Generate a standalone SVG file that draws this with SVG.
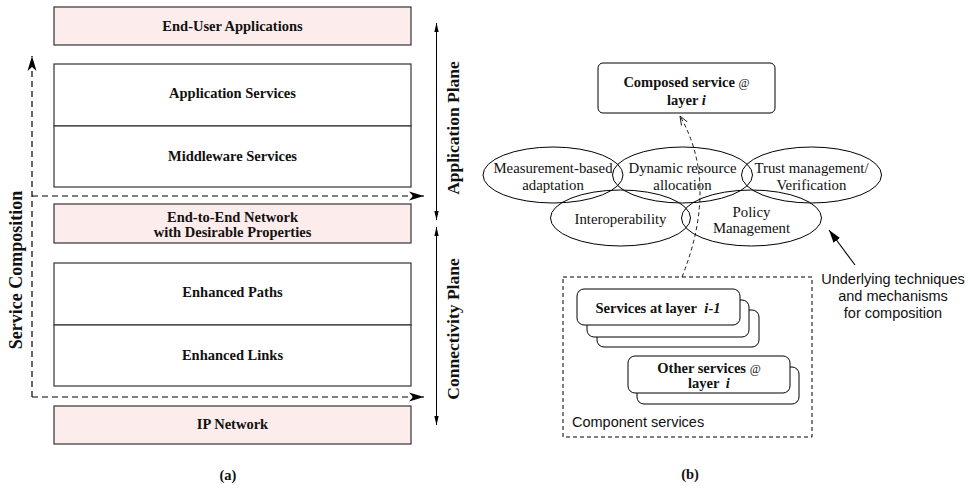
<svg xmlns="http://www.w3.org/2000/svg" width="970" height="489" viewBox="0 0 970 489">
<defs>
<marker id="barb" markerUnits="userSpaceOnUse" markerWidth="16" markerHeight="10" refX="15" refY="5" orient="auto">
<path d="M0,0.5 L15,5 L0,9.5 L4,5 Z" fill="#000"/>
</marker>
<marker id="thin" markerUnits="userSpaceOnUse" markerWidth="10" markerHeight="6" refX="9" refY="3" orient="auto">
<path d="M0,0.8 L9,3 L0,5.2 Z" fill="#000"/>
</marker>
<marker id="thinStart" markerUnits="userSpaceOnUse" markerWidth="10" markerHeight="6" refX="0" refY="3" orient="auto">
<path d="M9,0.8 L0,3 L9,5.2 Z" fill="#000"/>
</marker>
<marker id="open" markerUnits="userSpaceOnUse" markerWidth="10" markerHeight="8" refX="9" refY="4" orient="auto">
<path d="M0,0.5 L9,4 L0,7.5" fill="none" stroke="#000" stroke-width="0.8"/>
</marker>
<marker id="solid" markerUnits="userSpaceOnUse" markerWidth="14" markerHeight="9" refX="13" refY="4.5" orient="auto">
<path d="M0,0.5 L13,4.5 L0,8.5 Z" fill="#000"/>
</marker>
</defs>
<style>
.layer{stroke:#333;stroke-width:1.2;fill:#fff}
.pink{fill:#fcecec}
.bt{font-family:"Liberation Serif","Times New Roman",serif;font-weight:bold;font-size:14.5px;fill:#111;text-anchor:middle}
.rt{font-family:"Liberation Serif","Times New Roman",serif;font-size:14.8px;fill:#111;text-anchor:middle}
.st{font-family:"Liberation Sans",Arial,sans-serif;font-size:14.5px;fill:#111}
.ell{fill:none;stroke:#000;stroke-width:1}
.rbox{fill:#fff;stroke:#000;stroke-width:1}
.dash{fill:none;stroke:#000;stroke-width:1.2;stroke-dasharray:6,4}
.it{font-style:italic}
.at{font-weight:normal;font-size:12px}
</style>
<rect width="970" height="489" fill="#fff"/>

<!-- Panel (a) -->
<g id="end-user-apps">
<rect class="layer pink" x="54" y="7" width="357" height="38"/>
<text class="bt" x="232.5" y="30.5">End-User Applications</text>
</g>
<g id="app-services">
<rect class="layer" x="54" y="64" width="357" height="62"/>
<text class="bt" x="232.5" y="97.5">Application Services</text>
</g>
<g id="middleware-services">
<rect class="layer" x="54" y="126" width="357" height="61"/>
<text class="bt" x="232.5" y="161">Middleware Services</text>
</g>
<g id="e2e-network">
<rect class="layer pink" x="54" y="204" width="357" height="39"/>
<text class="bt" x="232.5" y="222">End-to-End Network</text>
<text class="bt" x="232.5" y="237">with Desirable Properties</text>
</g>
<g id="enhanced-paths">
<rect class="layer" x="54" y="263" width="357" height="62"/>
<text class="bt" x="232.5" y="297">Enhanced Paths</text>
</g>
<g id="enhanced-links">
<rect class="layer" x="54" y="325" width="357" height="61"/>
<text class="bt" x="232.5" y="360">Enhanced Links</text>
</g>
<g id="ip-network">
<rect class="layer pink" x="54" y="406" width="357" height="38"/>
<text class="bt" x="232.5" y="429">IP Network</text>
</g>
<g id="labels-a">
<text class="bt" style="font-size:18px" transform="translate(22,270) rotate(-90)">Service Composition</text>
<text class="bt" style="font-size:17.5px" transform="translate(459,128) rotate(-90)">Application Plane</text>
<text class="bt" style="font-size:17.5px" transform="translate(459,329) rotate(-90)">Connectivity Plane</text>
<text class="bt" x="228" y="480">(a)</text>
</g>

<!-- Panel (b) -->
<g id="composed-service">
<rect class="rbox" x="598" y="63" width="177" height="50" rx="5"/>
<text class="bt" x="686.5" y="87">Composed service <tspan class="at">@</tspan></text>
<text class="bt" x="686.5" y="105">layer <tspan class="it">i</tspan></text>
</g>
<g id="measurement">
<ellipse class="ell" cx="553" cy="175" rx="70" ry="28"/>
<text class="rt" x="553" y="173">Measurement-based</text>
<text class="rt" x="553" y="190">adaptation</text>
</g>
<g id="dynamic">
<ellipse class="ell" cx="682.5" cy="175" rx="70" ry="28"/>
<text class="rt" x="682.5" y="173">Dynamic resource</text>
<text class="rt" x="682.5" y="190">allocation</text>
</g>
<g id="trust">
<ellipse class="ell" cx="811.5" cy="175" rx="70" ry="28"/>
<text class="rt" x="811.5" y="173">Trust management/</text>
<text class="rt" x="811.5" y="190">Verification</text>
</g>
<g id="interop">
<ellipse class="ell" cx="620.5" cy="218" rx="70" ry="28"/>
<text class="rt" x="620.5" y="224">Interoperability</text>
</g>
<g id="policy">
<ellipse class="ell" cx="751.5" cy="218" rx="70" ry="28"/>
<text class="rt" x="751.5" y="217">Policy</text>
<text class="rt" x="751.5" y="233">Management</text>
</g>
<g id="underlying-label">
<text class="st" text-anchor="middle" x="893" y="284">Underlying techniques</text>
<text class="st" text-anchor="middle" x="893" y="301">and mechanisms</text>
<text class="st" text-anchor="middle" x="893" y="318">for composition</text>
</g>
<g id="component-services">
<rect x="563" y="277" width="249" height="160" fill="none" stroke="#000" stroke-width="1" stroke-dasharray="4,3"/>
<text class="st" x="572" y="427">Component services</text>
</g>
<g id="services-layer-i-1">
<rect class="rbox" x="597" y="310" width="162" height="37" rx="7"/>
<rect class="rbox" x="587" y="300" width="162" height="37" rx="7"/>
<rect class="rbox" x="577" y="289" width="163" height="36" rx="7"/>
<text class="bt" x="658" y="313">Services at layer <tspan class="it" dx="4">i-1</tspan></text>
</g>
<g id="other-services">
<rect class="rbox" x="637" y="367" width="162" height="37" rx="7"/>
<rect class="rbox" x="628" y="356" width="162" height="37" rx="7"/>
<text class="bt" x="709" y="373">Other services <tspan class="at">@</tspan></text>
<text class="bt" x="709" y="388">layer <tspan class="it" dx="3">i</tspan></text>
</g>
<g id="label-b">
<text class="bt" x="690" y="479">(b)</text>
</g>

<!-- Connectors -->
<g id="connectors">
<path class="dash" d="M32,397 L32,56" marker-end="url(#barb)"/>
<path class="dash" d="M32,196 L424,196" marker-end="url(#barb)"/>
<path class="dash" d="M32,397 L424,397" marker-end="url(#barb)"/>
<line x1="436.5" y1="23" x2="436.5" y2="220" stroke="#000" stroke-width="1" marker-start="url(#thinStart)" marker-end="url(#thin)"/>
<line x1="436.5" y1="227" x2="436.5" y2="425" stroke="#000" stroke-width="1" marker-start="url(#thinStart)" marker-end="url(#thin)"/>
<path d="M682,277 Q719,184 680,116" fill="none" stroke="#000" stroke-width="0.9" stroke-dasharray="4,3" marker-end="url(#open)"/>
<line x1="855" y1="265" x2="829" y2="230" stroke="#000" stroke-width="1.1" marker-end="url(#solid)"/>
</g>
</svg>
